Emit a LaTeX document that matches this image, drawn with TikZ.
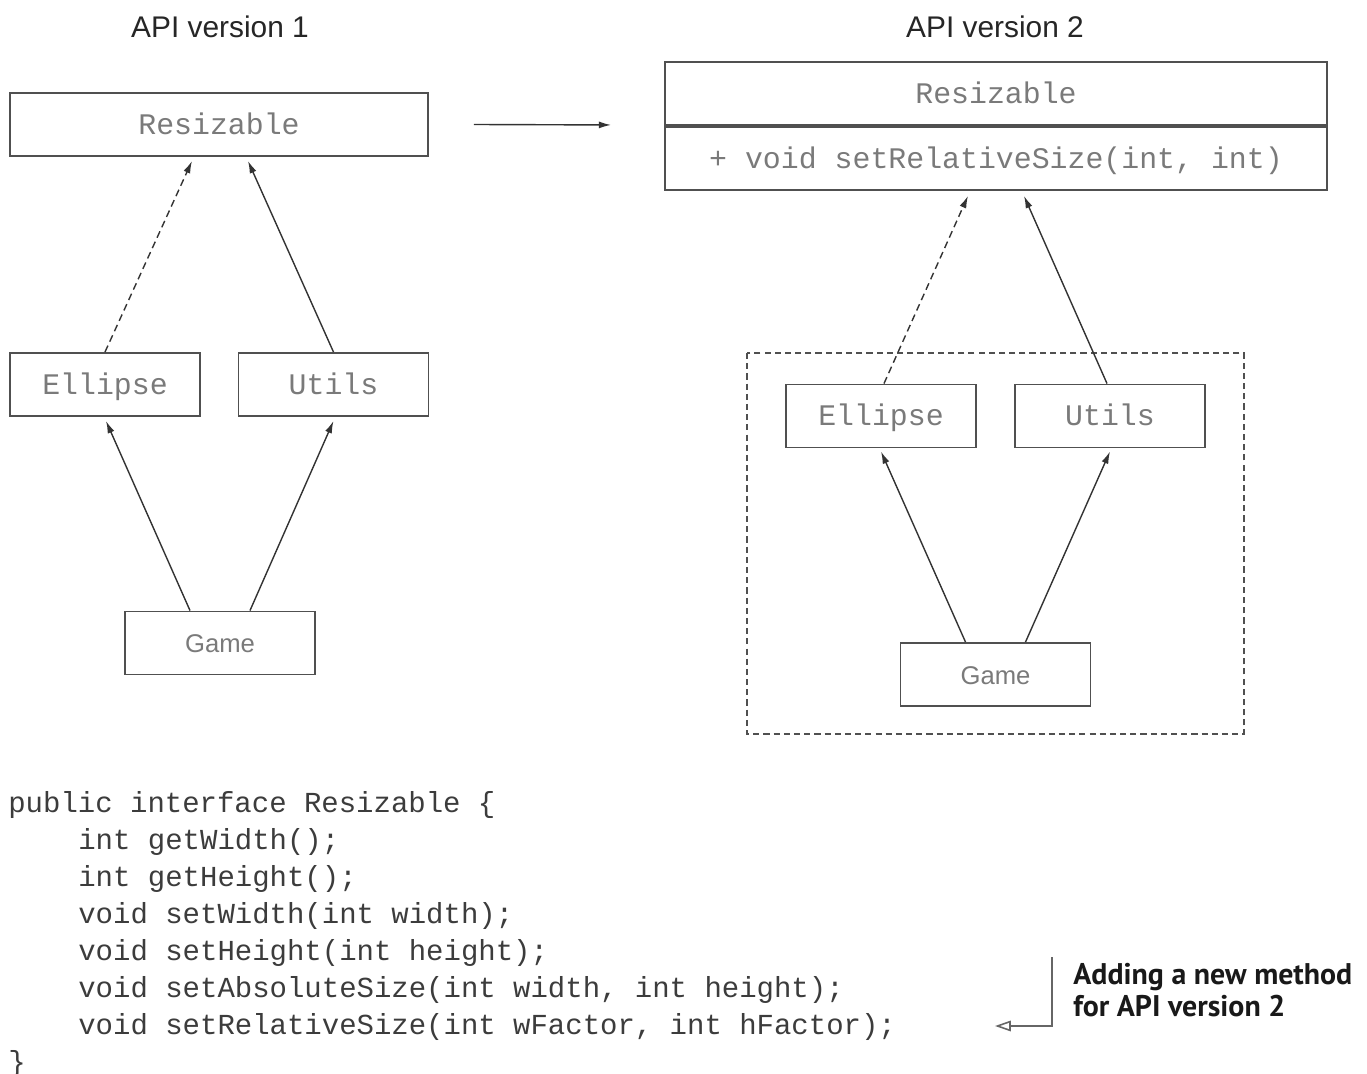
\documentclass[tikz,border=0pt]{standalone}
\usepackage{fontspec}
\setmainfont{Liberation Sans}
\setmonofont{Liberation Mono}
\newfontfamily\notefont{PT Sans}
\usetikzlibrary{arrows.meta,calc}
\definecolor{boxline}{HTML}{505050}
\definecolor{labelgray}{HTML}{7A7A7A}
\definecolor{arrowgray}{HTML}{333333}
\definecolor{codegray}{HTML}{3C3C3C}
\tikzset{
  cls/.style={draw=boxline, line width=1.1pt, minimum width=3.8cm,
    minimum height=1.26cm, inner sep=0pt, text=labelgray,
    text height=13pt, text depth=1.8pt,
    font=\fontsize{17}{20}\selectfont\ttfamily},
  wide/.style={cls, minimum width=8.36cm},
  wider/.style={cls, minimum width=13.24cm},
  dep/.style={draw=arrowgray, line width=0.8pt, -{Latex[length=7pt,width=4pt]}},
  impl/.style={dep, dash pattern=on 4pt off 2.5pt},
  code/.style={anchor=base west, inner sep=0pt, text=codegray,
    font=\fontsize{16.5}{20}\selectfont\ttfamily},
  head/.style={anchor=base, inner sep=0pt, text=black!85,
    font=\fontsize{17}{20}\selectfont},
}
\newcommand{\codeline}[4]{\node[code] (#1) at (#2,#3) {#4}}

\begin{document}
\begin{tikzpicture}[x=0.02cm, y=-0.02cm]
	\useasboundingbox (0,0) rectangle (1367,1074);
	\node[head] (headA) at (220,38) {API version 1};
	\node[head] (headB) at (995,38) {API version 2};
	% version 1
	\node[wide] (resA) at (219,124.5) {Resizable};
	\node[cls] (ellA) at (105,384.5) {Ellipse};
	\node[cls] (utilsA) at (333.5,384.5) {Utils};
	\node[cls, font=\fontsize{14.6}{17}\selectfont] (gameA) at (220,643) {Game};
	\draw[impl] (ellA.north) -- ($(resA.south)+(-27,4)$);
	\draw[dep] (utilsA.north) -- ($(resA.south)+(29,4)$);
	\draw[dep] ($(gameA.north)+(-30,0)$) -- ($(ellA.south)+(1,4)$);
	\draw[dep] ($(gameA.north)+(30,0)$) -- ($(utilsA.south)+(0,4)$);
	% version 2
	\node[wider] (resB) at (996,93.5) {Resizable};
	\node[wider, anchor=north] (methB) at (resB.south) {+ void setRelativeSize(int, int)};
	\draw[dep] ($(resA.east)+(45,0)$) -- ($(resB.south west)+(-53,-1)$);
	\draw[draw=boxline, line width=1pt, dash pattern=on 3.5pt off 2.3pt]
		(747,353) rectangle (1244,734);
	\node[cls] (ellB) at (881,416) {Ellipse};
	\node[cls] (utilsB) at (1110,416) {Utils};
	\node[cls, font=\fontsize{14.6}{17}\selectfont] (gameB) at (995.5,674.5) {Game};
	\draw[impl] ($(ellB.north)+(3,0)$) -- ($(methB.south)+(-28,5)$);
	\draw[dep] ($(utilsB.north)+(-3,0)$) -- ($(methB.south)+(28,5)$);
	\draw[dep] ($(gameB.north)+(-30,0)$) -- ($(ellB.south)+(0,3)$);
	\draw[dep] ($(gameB.north)+(30,0)$) -- ($(utilsB.south)+(0,3)$);
	% code
	\codeline{code1}{8}{812}{public interface Resizable \{};
	\codeline{code2}{78}{849}{int getWidth();};
	\codeline{code3}{78}{886}{int getHeight();};
	\codeline{code4}{78}{923}{void setWidth(int width);};
	\codeline{code5}{78}{960}{void setHeight(int height);};
	\codeline{code6}{78}{997}{void setAbsoluteSize(int width, int height);};
	\codeline{code7}{78}{1034}{void setRelativeSize(int wFactor, int hFactor);};
	\codeline{code8}{8}{1071}{\}};
	% note
	\node[anchor=base west, inner sep=0pt, align=left, text=black!90,
		font=\fontsize{17}{18.2}\selectfont\notefont\bfseries] (note) at (1073,1016)
		{Adding a new method\\for API version 2};
	\coordinate (noteTop) at (1052,957);
	\coordinate (noteTip) at (995,1026);
	\draw[draw=black!60, line width=0.9pt, -{Triangle[open,length=9pt,width=6pt]}]
		(noteTop) |- (noteTip);
\end{tikzpicture}
\end{document}
